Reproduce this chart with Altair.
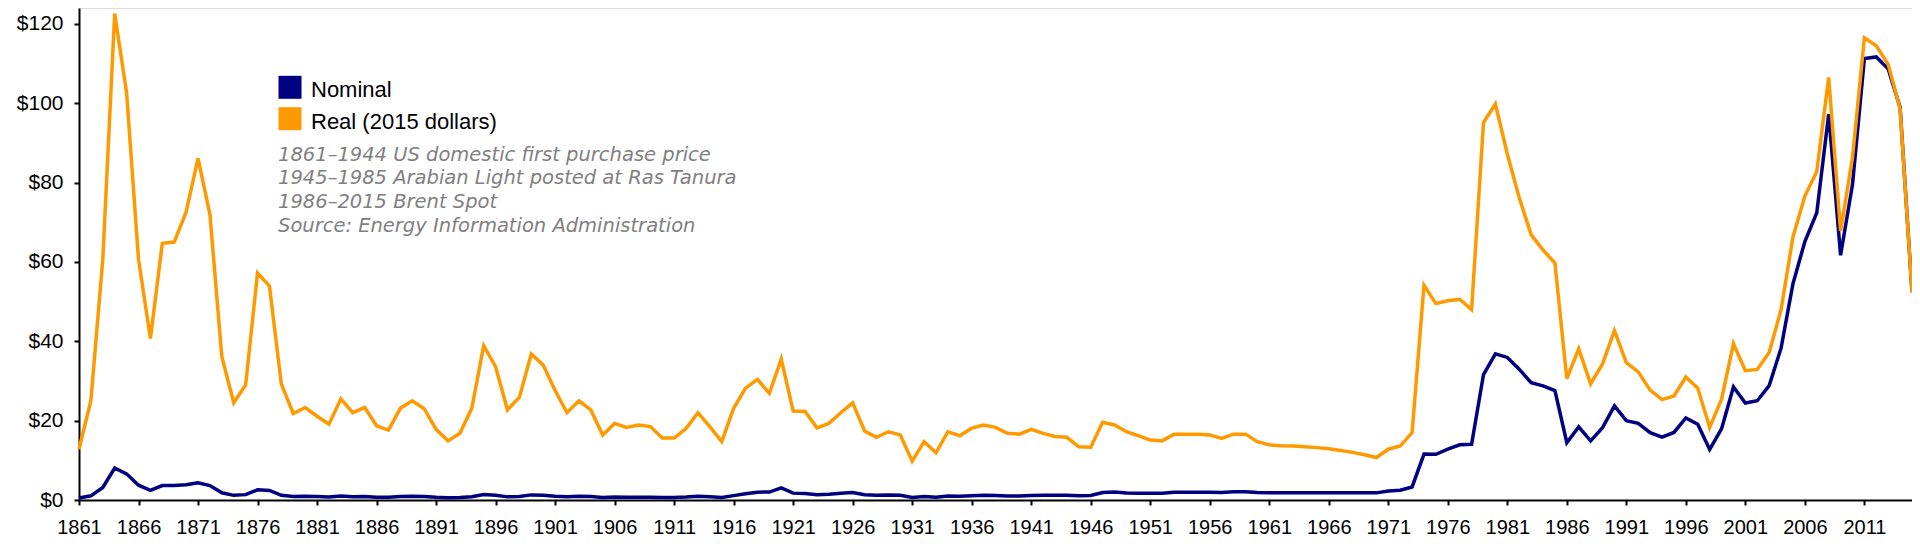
import altair as alt
import pandas as pd

years = list(range(1861, 2016))

nominal = [
    0.49, 1.05, 3.15, 8.06, 6.59, 3.74, 2.41, 3.63, 3.64, 3.86,          # 1861-1870
    4.34, 3.64, 1.83, 1.17, 1.35, 2.56, 2.42, 1.19, 0.86, 0.95,          # 1871-1880
    0.86, 0.78, 1.00, 0.84, 0.88, 0.71, 0.67, 0.88, 0.94, 0.87,          # 1881-1890
    0.67, 0.56, 0.64, 0.84, 1.36, 1.18, 0.79, 0.91, 1.29, 1.19,          # 1891-1900
    0.96, 0.80, 0.94, 0.86, 0.62, 0.73, 0.72, 0.72, 0.70, 0.61,          # 1901-1910
    0.61, 0.74, 0.95, 0.81, 0.64, 1.10, 1.56, 1.98, 2.01, 3.07,          # 1911-1920
    1.73, 1.61, 1.34, 1.43, 1.68, 1.88, 1.30, 1.17, 1.27, 1.19,          # 1921-1930
    0.65, 0.87, 0.67, 1.00, 0.97, 1.09, 1.18, 1.13, 1.02, 1.02,          # 1931-1940
    1.14, 1.19, 1.20, 1.21, 1.05, 1.12, 1.90, 1.99, 1.78, 1.71,          # 1941-1950
    1.71, 1.71, 1.93, 1.93, 1.93, 1.93, 1.90, 2.08, 2.08, 1.90,          # 1951-1960
    1.80, 1.80, 1.80, 1.80, 1.80, 1.80, 1.80, 1.80, 1.80, 1.80,          # 1961-1970
    2.24, 2.48, 3.29, 11.58, 11.53, 12.80, 13.92, 14.02, 31.61, 36.83,   # 1971-1980
    35.93, 32.97, 29.55, 28.78, 27.56, 14.43, 18.44, 14.92, 18.23, 23.73,  # 1981-1990
    20.00, 19.32, 16.97, 15.82, 17.02, 20.67, 19.09, 12.72, 17.97, 28.50,  # 1991-2000
    24.44, 25.02, 28.83, 38.27, 54.52, 65.14, 72.39, 97.26, 61.67, 79.50,  # 2001-2010
    111.26, 111.67, 108.66, 98.95, 52.39,                                 # 2011-2015
]

real = [
    12.8, 25.1, 60.7, 122.6, 102.6, 60.7, 40.7, 64.7, 65.0, 72.6,        # 1861-1870
    86.1, 72.0, 36.1, 24.5, 29.0, 57.2, 53.9, 29.2, 21.8, 23.3,          # 1871-1880
    21.1, 19.1, 25.5, 22.0, 23.3, 18.7, 17.6, 23.1, 25.0, 23.0,          # 1881-1890
    17.8, 14.9, 16.8, 23.1, 38.9, 33.6, 22.7, 25.9, 36.8, 34.0,          # 1891-1900
    27.6, 22.0, 25.0, 22.7, 16.4, 19.3, 18.3, 18.9, 18.5, 15.6,          # 1901-1910
    15.6, 18.0, 22.0, 18.5, 14.7, 23.1, 28.2, 30.4, 26.9, 35.5,          # 1911-1920
    22.4, 22.3, 18.2, 19.3, 22.0, 24.5, 17.4, 15.8, 17.2, 16.4,          # 1921-1930
    9.8, 14.7, 11.9, 17.2, 16.2, 18.1, 18.9, 18.3, 16.8, 16.6,           # 1931-1940
    17.8, 16.8, 16.0, 15.8, 13.4, 13.3, 19.6, 18.9, 17.2, 16.2,          # 1941-1950
    15.1, 14.9, 16.6, 16.6, 16.6, 16.4, 15.5, 16.6, 16.6, 14.7,          # 1951-1960
    13.9, 13.7, 13.6, 13.4, 13.2, 12.9, 12.5, 12.0, 11.4, 10.7,          # 1961-1970
    12.8, 13.6, 17.0, 54.1, 49.5, 50.2, 50.6, 48.0, 95.1, 99.8,          # 1971-1980
    87.2, 76.2, 66.9, 63.0, 59.7, 30.6, 38.1, 29.3, 34.3, 42.7,          # 1981-1990
    34.6, 32.3, 27.7, 25.3, 26.2, 31.0, 28.2, 18.3, 25.4, 39.4,          # 1991-2000
    32.6, 32.9, 37.2, 48.0, 66.3, 76.6, 82.8, 106.5, 67.8, 86.3,         # 2001-2010
    116.5, 114.5, 109.8, 98.6, 52.4,                                      # 2011-2015
]

series_names = ["Nominal", "Real (2015 dollars)"]
series_colors = ["#000080", "#ff9900"]

note_lines = [
    "1861–1944 US domestic first purchase price",
    "1945–1985 Arabian Light posted at Ras Tanura",
    "1986–2015 Brent Spot",
    "Source: Energy Information Administration",
]

x_ticks = list(range(1861, 2012, 5))
y_ticks = [0, 20, 40, 60, 80, 100, 120]

FONT = "Liberation Sans"

df_nom = pd.DataFrame({"year": years, "price": nominal})
df_real = pd.DataFrame({"year": years, "price": real})

x_enc = alt.X(
    "year:Q",
    scale=alt.Scale(domain=[1861, 2015], nice=False, zero=False),
    axis=alt.Axis(
        values=x_ticks, format="d", title=None, grid=False,
        domainColor="black", domainWidth=2,
        tickColor="black", tickWidth=2, tickSize=5,
        labelFont=FONT, labelFontSize=20, labelColor="black",
        labelPadding=12, labelFlush=False, labelOverlap=False,
    ),
)
y_enc = alt.Y(
    "price:Q",
    scale=alt.Scale(domain=[0, 124], nice=False, zero=True),
    axis=alt.Axis(
        values=y_ticks, labelExpr="'$' + datum.value", title=None, grid=False,
        domainColor="black", domainWidth=2,
        tickColor="black", tickWidth=2, tickSize=5,
        labelFont=FONT, labelFontSize=21, labelColor="black",
        labelPadding=11,
    ),
)

line_nom = alt.Chart(df_nom).mark_line(
    color=series_colors[0], strokeWidth=3.5
).encode(x=x_enc, y=y_enc)

line_real = alt.Chart(df_real).mark_line(
    color=series_colors[1], strokeWidth=3.5
).encode(x=x_enc, y=y_enc)

leg_sq_nom = alt.Chart(pd.DataFrame({"name": [series_names[0]]})).mark_square(
    size=529, color=series_colors[0], opacity=1
).encode(x=alt.value(211), y=alt.value(79.3))
leg_sq_real = alt.Chart(pd.DataFrame({"name": [series_names[1]]})).mark_square(
    size=529, color=series_colors[1], opacity=1
).encode(x=alt.value(211), y=alt.value(110.7))

leg_tx_nom = alt.Chart(pd.DataFrame({"name": [series_names[0]]})).mark_text(
    align="left", baseline="alphabetic", font=FONT, fontSize=22, color="black"
).encode(text="name:N", x=alt.value(232), y=alt.value(88.7))
leg_tx_real = alt.Chart(pd.DataFrame({"name": [series_names[1]]})).mark_text(
    align="left", baseline="alphabetic", font=FONT, fontSize=22, color="black"
).encode(text="name:N", x=alt.value(232), y=alt.value(121))

note = alt.Chart(pd.DataFrame({"note": ["\n".join(note_lines)]})).mark_text(
    align="left", baseline="alphabetic", lineBreak="\n", lineHeight=23.7,
    font="DejaVu Sans", fontSize=19.5, fontStyle="italic", color="#808080"
).encode(text="note:N", x=alt.value(199), y=alt.value(152.7))

chart = alt.layer(
    line_nom, line_real, leg_sq_nom, leg_sq_real, leg_tx_nom, leg_tx_real, note
).properties(
    width=1833, height=492,
    padding={"left": 71, "top": 0, "right": 0, "bottom": 40},
    autosize=alt.AutoSizeParams(type="none"),
).configure_view(stroke=None).configure(background="white")

chart.save("out.html", embed_options={"renderer": "svg", "actions": False})
